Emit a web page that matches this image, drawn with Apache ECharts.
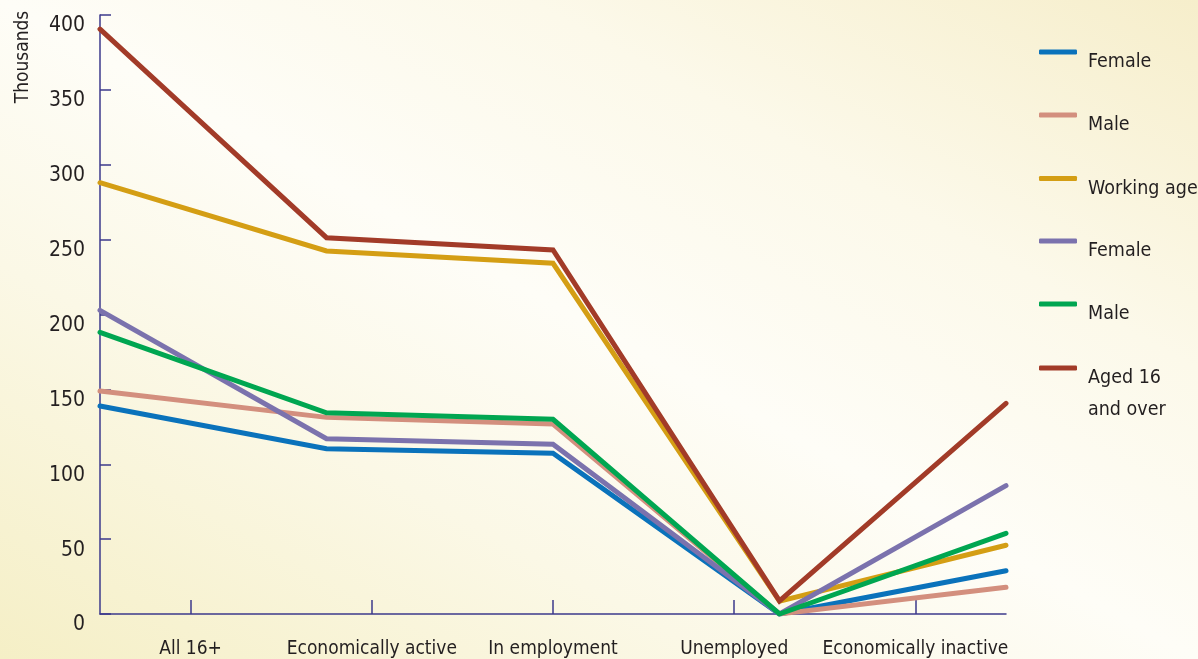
<!DOCTYPE html>
<html>
<head>
<meta charset="utf-8">
<title>Population by economic activity</title>
<script src="https://cdn.jsdelivr.net/npm/echarts@6/dist/echarts.min.js"></script>
<style>
  html, body { margin: 0; padding: 0; }
  #chart {
    width: 1198px;
    height: 659px;
    background: linear-gradient(to top right, #f5efc6 0%, #fbf8e6 30%, #fefdf7 50%, #fcf9ea 72%, #f6eecb 100%);
  }
</style>
</head>
<body>
<div id="chart"></div>
<script>
// Categories along the horizontal axis
const categories = ['All 16+', 'Economically active', 'In employment', 'Unemployed', 'Economically inactive'];

// Y-axis tick range (thousands)
const yMin = 0;
const yMax = 400;
const yStep = 50;

// Series values, in thousands
const femaleWorkingAge = [138.9, 110.4, 107.3, 0, 28.9];
const maleWorkingAge   = [148.9, 131.3, 126.9, 0, 17.8];
const workingAge       = [288.0, 242.4, 234.2, 8.5, 45.9];
const female16Plus     = [202.8, 117.1, 113.3, 0, 85.7];
const male16Plus       = [188.1, 134.4, 130.0, 0, 53.9];
const aged16Plus       = [390.6, 251.3, 243.1, 8.7, 140.7];

// Series names and the labels shown for them in the legend
const seriesNames = ['Female (working age)', 'Male (working age)', 'Working age',
                     'Female (16 and over)', 'Male (16 and over)', 'Aged 16 and over'];
const legendLabels = [['Female'], ['Male'], ['Working age'], ['Female'], ['Male'], ['Aged 16', 'and over']];
const seriesValues = [femaleWorkingAge, maleWorkingAge, workingAge, female16Plus, male16Plus, aged16Plus];

const colors = ['#0a72bb', '#d38f7e', '#d49e14', '#7b72ad', '#00a651', '#a23b28'];
const axisColor = '#3c3a8c';
const textColor = '#231f20';
const font = "'Liberation Sans Narrow', 'Arial Narrow', 'DejaVu Sans Condensed', 'Noto Sans', sans-serif";

const chart = echarts.init(document.getElementById('chart'), null, { renderer: 'canvas' });

// One legend block per series so each row sits at its own height.
// A spacer line above the label drops the text a little below its swatch.
const legendIconY = [52.3, 115.3, 178.7, 241.3, 304.3, 367.7];
const legends = seriesNames.map((name, i) => {
  const lines = legendLabels[i];
  const multiLine = lines.length > 1;
  return {
    data: [{ name: name, icon: 'roundRect' }],
    orient: 'vertical',
    left: 1039,
    top: legendIconY[i] - (multiLine ? 36.8 : 13.2),
    padding: 0,
    itemWidth: 38,
    itemHeight: 5,
    selectedMode: false,
    formatter: () => ['{s| }'].concat(lines.map(l => '{t|' + l + '}')).join('\n'),
    textStyle: {
      fontFamily: font,
      fontSize: 19.5,
      color: textColor,
      padding: [0, 0, 0, 6],
      rich: {
        s: { fontSize: 10, lineHeight: multiLine ? 52 : 20 },
        t: { fontFamily: font, fontSize: 19.5, color: textColor, lineHeight: multiLine ? 32 : 16 }
      }
    }
  };
});

const option = {
  animation: false,
  color: colors,
  grid: { left: 100, right: 192, top: 15, bottom: 45, containLabel: false },
  legend: legends,
  graphic: [{
    type: 'text',
    x: 23,
    y: 57,
    rotation: Math.PI / 2,
    style: {
      text: 'Thousands',
      fontFamily: font,
      fontSize: 19,
      fill: textColor,
      align: 'center',
      verticalAlign: 'middle'
    }
  }],
  xAxis: [
    {
      // visible category axis carrying the labels
      type: 'category',
      data: categories,
      boundaryGap: true,
      axisLine: { show: true, lineStyle: { color: axisColor, width: 1.5 } },
      axisTick: { show: true, inside: true, alignWithLabel: true, length: 14, lineStyle: { color: axisColor, width: 1.5 } },
      axisLabel: { margin: 26, fontFamily: font, fontSize: 19, color: textColor, interval: 0 },
      splitLine: { show: false }
    },
    {
      // hidden axis on which the lines are plotted, edge to edge
      type: 'category',
      data: categories,
      boundaryGap: false,
      show: false
    }
  ],
  yAxis: {
    type: 'value',
    min: yMin,
    max: yMax,
    interval: yStep,
    axisLine: { show: true, lineStyle: { color: axisColor, width: 1.5 } },
    axisTick: { show: true, inside: true, length: 11, lineStyle: { color: axisColor, width: 1.5 } },
    axisLabel: {
      margin: 15,
      fontFamily: font,
      fontSize: 21,
      color: textColor,
      verticalAlign: 'top',
      lineHeight: 22
    },
    splitLine: { show: false }
  },
  series: seriesNames.map((name, i) => ({
    name: name,
    type: 'line',
    xAxisIndex: 1,
    data: seriesValues[i],
    symbol: 'none',
    lineStyle: { width: 5, color: colors[i], cap: 'round', join: 'miter' },
    itemStyle: { color: colors[i] },
    z: 2 + i
  }))
};

chart.setOption(option);
</script>
</body>
</html>
